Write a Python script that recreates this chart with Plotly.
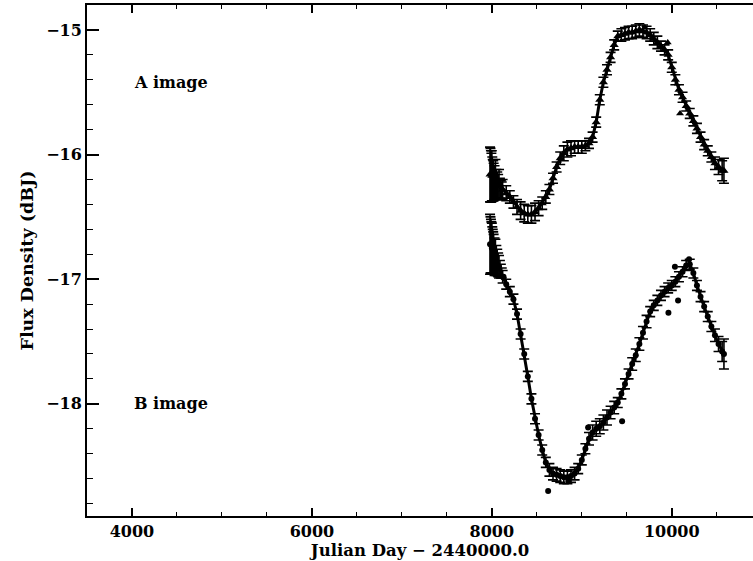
import plotly.graph_objects as go

# ---- A image (model points with error bars) ----
a_day = [7980, 8000, 8040, 8080, 8120, 8160, 8200, 8240, 8280, 8320, 8360, 8400,
         8440, 8480, 8520, 8560, 8600, 8640, 8680, 8720, 8760, 8800, 8840, 8880,
         8920, 8960, 9000, 9040, 9080, 9120, 9160, 9200, 9240, 9280, 9320, 9360,
         9400, 9440, 9480, 9520, 9560, 9600, 9640, 9680, 9720, 9760, 9800, 9840,
         9880, 9920, 9960, 10000, 10040, 10080, 10120, 10160, 10200, 10240, 10280,
         10320, 10360, 10400, 10440, 10480, 10520, 10560, 10580]
a_flux = [-16.16, -16.17, -16.20, -16.24, -16.28, -16.31, -16.34, -16.38, -16.42,
          -16.45, -16.47, -16.48, -16.48, -16.46, -16.43, -16.39, -16.34, -16.28,
          -16.19, -16.10, -16.03, -15.99, -15.96, -15.95, -15.94, -15.94, -15.94,
          -15.93, -15.91, -15.86, -15.74, -15.56, -15.42, -15.32, -15.22, -15.12,
          -15.05, -15.04, -15.03, -15.02, -15.02, -15.01, -15.00, -15.01, -15.02,
          -15.04, -15.07, -15.10, -15.13, -15.16, -15.20, -15.30, -15.40, -15.48,
          -15.54, -15.61, -15.67, -15.73, -15.79, -15.86, -15.92, -15.97, -16.02,
          -16.07, -16.10, -16.13, -16.13]
a_err = [0.22, 0.20, 0.16, 0.12, 0.08, 0.06, 0.05, 0.05, 0.06, 0.07, 0.07, 0.07,
         0.07, 0.07, 0.06, 0.05, 0.05, 0.04, 0.04, 0.04, 0.05, 0.06, 0.06, 0.06,
         0.05, 0.05, 0.05, 0.04, 0.04, 0.04, 0.04, 0.04, 0.04, 0.04, 0.04, 0.04,
         0.04, 0.05, 0.05, 0.05, 0.05, 0.05, 0.05, 0.05, 0.05, 0.05, 0.05, 0.05,
         0.04, 0.04, 0.04, 0.04, 0.04, 0.04, 0.04, 0.04, 0.04, 0.04, 0.04, 0.04,
         0.04, 0.04, 0.04, 0.05, 0.06, 0.08, 0.10]
# dense early A points (hatched wedge)
a_early_day = [7985, 7990, 7995, 8005, 8010, 8015, 8020, 8030, 8050, 8060, 8070,
               8090, 8100, 8110]
a_early_flux = [-16.165, -16.175, -16.185, -16.195, -16.205, -16.21, -16.22, -16.225,
                -16.24, -16.25, -16.26, -16.27, -16.28, -16.285]
a_early_err = [0.215, 0.205, 0.195, 0.175, 0.165, 0.16, 0.15, 0.135, 0.12, 0.11,
               0.10, 0.08, 0.07, 0.065]
a_out_day = [10092, 9955, 9700]
a_out_flux = [-15.67, -15.10, -14.98]

# ---- B image ----
b_day = a_day
b_flux = [-16.72, -16.75, -16.82, -16.90, -16.98, -17.04, -17.10, -17.16, -17.28,
          -17.44, -17.60, -17.78, -17.96, -18.12, -18.25, -18.37, -18.47, -18.53,
          -18.56, -18.57, -18.58, -18.59, -18.59, -18.58, -18.56, -18.52, -18.45,
          -18.36, -18.28, -18.23, -18.20, -18.18, -18.15, -18.11, -18.07, -18.03,
          -17.99, -17.92, -17.84, -17.76, -17.68, -17.61, -17.52, -17.43, -17.34,
          -17.26, -17.21, -17.17, -17.13, -17.10, -17.07, -17.05, -17.02, -16.98,
          -16.94, -16.89, -16.88, -16.95, -17.05, -17.14, -17.22, -17.30, -17.38,
          -17.45, -17.52, -17.58, -17.60]
b_err = [0.24, 0.20, 0.14, 0.09, 0.05, 0.04, 0.04, 0.04, 0.04, 0.04, 0.04, 0.04,
         0.04, 0.04, 0.04, 0.04, 0.04, 0.05, 0.05, 0.05, 0.05, 0.05, 0.05, 0.05,
         0.05, 0.04, 0.04, 0.04, 0.05, 0.06, 0.06, 0.06, 0.06, 0.06, 0.05, 0.05,
         0.04, 0.04, 0.04, 0.04, 0.05, 0.05, 0.05, 0.05, 0.05, 0.04, 0.04, 0.04,
         0.04, 0.04, 0.04, 0.04, 0.04, 0.04, 0.04, 0.04, 0.04, 0.04, 0.04, 0.04,
         0.04, 0.04, 0.04, 0.05, 0.06, 0.08, 0.12]
b_early_day = [7985, 7990, 7995, 8005, 8010, 8015, 8020, 8030, 8050, 8060, 8070,
               8090, 8100, 8110]
b_early_flux = [-16.725, -16.735, -16.745, -16.77, -16.78, -16.79, -16.80, -16.82,
                -16.85, -16.865, -16.885, -16.915, -16.935, -16.95]
b_early_err = [0.225, 0.215, 0.205, 0.19, 0.18, 0.17, 0.16, 0.15, 0.12, 0.105,
               0.095, 0.065, 0.055, 0.04]
b_out_day = [8626, 9963, 10070, 9070, 9448, 10035, 10192, 8130, 8850]
b_out_flux = [-18.70, -17.27, -17.17, -18.19, -18.14, -16.90, -16.84, -16.98, -18.62]

x_ticks = [4000, 6000, 8000, 10000]
y_ticks = [-18, -17, -16, -15]

FONT = "DejaVu Serif"
ERR = dict(type="data", color="black", thickness=1.6, width=5)

fig = go.Figure()
fig.add_trace(go.Scatter(
    x=a_early_day, y=a_early_flux, mode="markers",
    marker=dict(size=2, color="black"),
    error_y=dict(ERR, array=a_early_err), showlegend=False))
fig.add_trace(go.Scatter(
    x=a_day, y=a_flux, mode="lines+markers",
    line=dict(color="black", width=3),
    marker=dict(symbol="triangle-up", size=8, color="black"),
    error_y=dict(ERR, array=a_err), showlegend=False))
fig.add_trace(go.Scatter(
    x=a_out_day, y=a_out_flux, mode="markers",
    marker=dict(symbol="triangle-up", size=7, color="black"), showlegend=False))
fig.add_trace(go.Scatter(
    x=b_early_day, y=b_early_flux, mode="markers",
    marker=dict(size=2, color="black"),
    error_y=dict(ERR, array=b_early_err), showlegend=False))
fig.add_trace(go.Scatter(
    x=b_day, y=b_flux, mode="lines+markers",
    line=dict(color="black", width=3),
    marker=dict(symbol="circle", size=6, color="black"),
    error_y=dict(ERR, array=b_err), showlegend=False))
fig.add_trace(go.Scatter(
    x=b_out_day, y=b_out_flux, mode="markers",
    marker=dict(symbol="circle", size=6, color="black"), showlegend=False))

fig.add_annotation(x=4000, y=-15.42, text="A image", showarrow=False,
                   xanchor="left", yanchor="middle",
                   font=dict(family=FONT, size=16, color="black"))
fig.add_annotation(x=4000, y=-18.0, text="B image", showarrow=False,
                   xanchor="left", yanchor="middle",
                   font=dict(family=FONT, size=16, color="black"))

fig.update_layout(
    width=753, height=561,
    margin=dict(l=87, r=0, t=5, b=45),
    paper_bgcolor="white", plot_bgcolor="white",
    font=dict(family=FONT, size=16, color="black", weight="bold"),
    xaxis=dict(range=[3500, 10903], tickvals=x_ticks, ticktext=[str(v) for v in x_ticks],
               ticks="inside", ticklen=8, tickwidth=1.5, tickcolor="black",
               showline=True, linewidth=2, linecolor="black", mirror="ticks",
               showgrid=False, zeroline=False,
               minor=dict(dtick=500, tick0=0, ticks="inside", ticklen=4,
                          tickwidth=1, tickcolor="black", showgrid=False),
               title=dict(text="Julian Day − 2440000.0", standoff=2,
                          font=dict(family=FONT, size=16.5))),
    yaxis=dict(range=[-18.9, -14.8], tickvals=y_ticks,
               ticks="inside", ticklen=12, tickwidth=1.5, tickcolor="black",
               showline=True, linewidth=2, linecolor="black", mirror=False,
               showgrid=False, zeroline=False,
               minor=dict(dtick=0.2, tick0=0, ticks="inside", ticklen=6,
                          tickwidth=1, tickcolor="black", showgrid=False),
               title=dict(text="Flux Density (dBJ)", standoff=8,
                          font=dict(family=FONT, size=17.5))),
)
fig.write_html("out.html")
